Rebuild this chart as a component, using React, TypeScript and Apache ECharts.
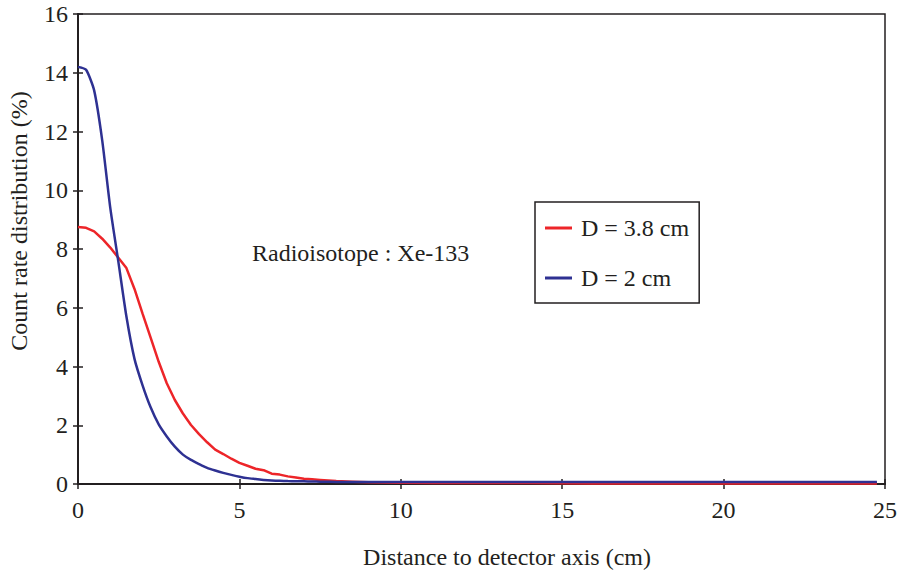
import React, { useEffect, useRef } from "react";
import * as echarts from "echarts";

const distances = [0, 0.25, 0.5, 0.75, 1, 1.25, 1.5, 1.75, 2, 2.25, 2.5, 2.75, 3, 3.25, 3.5, 3.75, 4, 4.25, 4.5, 4.75, 5, 5.25, 5.5, 5.75, 6, 6.25, 6.5, 6.75, 7, 7.25, 7.5, 7.75, 8, 8.5, 9, 9.5, 10, 11, 12, 14, 16, 18, 20, 22, 24, 24.75];
const d38 = [8.75, 8.72, 8.6, 8.35, 8.05, 7.7, 7.35, 6.64, 5.8, 4.98, 4.16, 3.43, 2.86, 2.4, 2.01, 1.7, 1.42, 1.17, 1.02, 0.86, 0.72, 0.62, 0.52, 0.47, 0.35, 0.32, 0.26, 0.22, 0.18, 0.16, 0.14, 0.12, 0.1, 0.08, 0.06, 0.05, 0.04, 0.03, 0.03, 0.03, 0.02, 0.02, 0.02, 0.02, 0.02, 0.02];
const d2 = [14.2, 14.1, 13.4, 11.7, 9.4, 7.57, 5.7, 4.26, 3.36, 2.61, 2.03, 1.62, 1.27, 1.0, 0.82, 0.68, 0.55, 0.46, 0.38, 0.31, 0.25, 0.2, 0.17, 0.14, 0.12, 0.11, 0.1, 0.095, 0.09, 0.085, 0.08, 0.075, 0.07, 0.07, 0.07, 0.07, 0.07, 0.07, 0.07, 0.07, 0.07, 0.07, 0.07, 0.07, 0.07, 0.07];
const seriesNames = ["D = 3.8 cm", "D = 2 cm"];

const FONT = "Liberation Serif";
const FS = 24;
const TXT = "#231f20";

export default function App() {
  const ref = useRef<HTMLDivElement>(null);
  useEffect(() => {
    if (!ref.current) return;
    const chart = echarts.init(ref.current, null, { renderer: "svg" });
    const xAxisBase = {
      type: "value",
      min: 0,
      max: 25,
      interval: 5,
      splitLine: { show: false },
    };
    const yAxisBase = {
      type: "value",
      min: 0,
      max: 16,
      interval: 2,
      splitLine: { show: false },
    };
    const textStyle = { fill: TXT, fontFamily: FONT, fontSize: FS };
    chart.setOption({
      animation: false,
      backgroundColor: "#ffffff",
      grid: {
        left: 78,
        right: 25,
        top: 14,
        bottom: 90,
        show: true,
        borderColor: TXT,
        borderWidth: 1.5,
        backgroundColor: "transparent",
      },
      xAxis: [
        {
          ...xAxisBase,
          position: "bottom",
          axisLine: { show: true, lineStyle: { color: TXT, width: 2 } },
          axisTick: { show: true, inside: false, length: 5, lineStyle: { color: TXT, width: 1.5 } },
          axisLabel: { color: TXT, fontFamily: FONT, fontSize: FS, margin: 14 },
        },
        {
          ...xAxisBase,
          position: "bottom",
          axisLine: { show: false },
          axisTick: { show: true, inside: true, length: 5, lineStyle: { color: TXT, width: 1.5 } },
          axisLabel: { show: false },
        },
      ],
      yAxis: [
        {
          ...yAxisBase,
          position: "left",
          axisLine: { show: true, lineStyle: { color: TXT, width: 2 } },
          axisTick: { show: true, inside: false, length: 5, lineStyle: { color: TXT, width: 1.5 } },
          axisLabel: { color: TXT, fontFamily: FONT, fontSize: FS, margin: 10 },
        },
        {
          ...yAxisBase,
          position: "left",
          axisLine: { show: false },
          axisTick: { show: true, inside: true, length: 5, lineStyle: { color: TXT, width: 1.5 } },
          axisLabel: { show: false },
        },
      ],
      legend: {
        left: 535,
        top: 202,
        orient: "vertical",
        data: [
          { name: seriesNames[0], icon: "rect" },
          { name: seriesNames[1], icon: "rect" },
        ],
        itemWidth: 27,
        itemHeight: 3,
        itemGap: 26,
        padding: [14, 10, 13, 10],
        borderColor: TXT,
        borderWidth: 1.5,
        textStyle: { color: TXT, fontFamily: FONT, fontSize: FS, lineHeight: 24, padding: [0, 0, 0, 4] },
      },
      graphic: [
        {
          type: "text",
          x: 252,
          y: 253,
          style: { text: "Radioisotope : Xe-133", ...textStyle, align: "left", verticalAlign: "middle" },
        },
        {
          type: "text",
          x: 507,
          y: 557,
          style: {
            text: "Distance to detector axis (cm)",
            ...textStyle,
            align: "center",
            verticalAlign: "middle",
          },
        },
        {
          type: "text",
          x: 19,
          y: 221,
          rotation: Math.PI / 2,
          style: {
            text: "Count rate distribution (%)",
            ...textStyle,
            align: "center",
            verticalAlign: "middle",
          },
        },
      ],
      series: [
        {
          name: seriesNames[0],
          type: "line",
          data: distances.map((x, i) => [x, d38[i]]),
          showSymbol: false,
          symbol: "none",
          lineStyle: { color: "#ed2529", width: 2.5 },
          itemStyle: { color: "#ed2529" },
          z: 3,
        },
        {
          name: seriesNames[1],
          type: "line",
          data: distances.map((x, i) => [x, d2[i]]),
          showSymbol: false,
          symbol: "none",
          smooth: 0.2,
          lineStyle: { color: "#2e3192", width: 2.5 },
          itemStyle: { color: "#2e3192" },
          z: 4,
        },
      ],
    });
    return () => chart.dispose();
  }, []);
  return (
    <div
      ref={ref}
      style={{ position: "absolute", left: 0, top: 0, width: 910, height: 574 }}
    />
  );
}
